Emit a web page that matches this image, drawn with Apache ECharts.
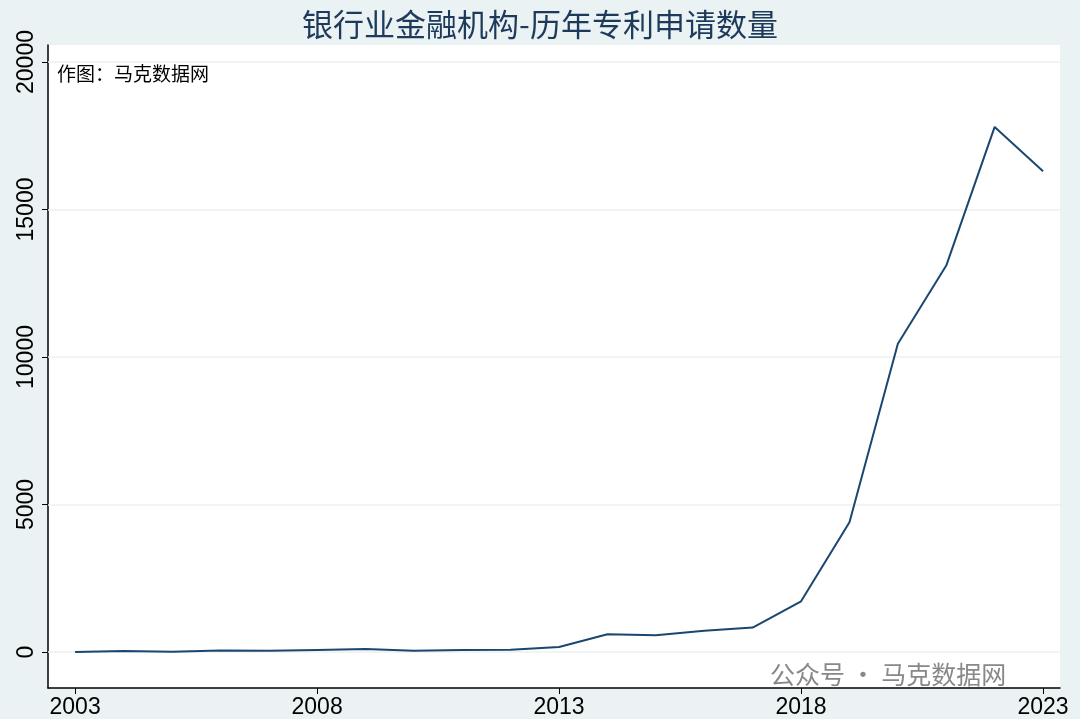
<!DOCTYPE html>
<html>
<head>
<meta charset="utf-8">
<script src="https://cdn.jsdelivr.net/npm/echarts@6/dist/echarts.min.js"></script>
<style>html,body{margin:0;padding:0;background:#eaf2f3;}#main{width:1080px;height:719px;}</style>
</head>
<body>
<div id="main"></div>
<script>
var years = [2003,2004,2005,2006,2007,2008,2009,2010,2011,2012,2013,2014,2015,2016,2017,2018,2019,2020,2021,2022,2023];
var patents = [0,30,10,50,40,70,100,40,70,80,170,600,570,720,830,1720,4400,10450,13100,17800,16300];
var xTicks = [2003,2008,2013,2018,2023];
var yTicks = [0,5000,10000,15000,20000];

var chart = echarts.init(document.getElementById('main'));
var data = years.map(function (y, i) { return [y, patents[i]]; });
chart.setOption({
    backgroundColor: '#eaf2f3',
    title: {
        text: '银行业金融机构-历年专利申请数量',
        left: 'center', top: 4,
        textStyle: { color: '#1e3a5a', fontSize: 31, fontWeight: 'normal', fontFamily: 'Noto Sans CJK SC' }
    },
    grid: { left: 48, right: 20, top: 45, bottom: 31, backgroundColor: '#fff', show: true, borderWidth: 0 },
    xAxis: {
        type: 'value', min: 2002.44, max: 2023.35,
        axisLine: { onZero: false, lineStyle: { color: '#000', width: 1.5 } },
        axisTick: { show: true, customValues: xTicks, length: 6, lineStyle: { color: '#000' } },
        axisLabel: { customValues: xTicks, color: '#000', fontSize: 23, margin: 8, fontFamily: 'Liberation Sans',
            formatter: function (v) { return String(v); } },
        splitLine: { show: false }
    },
    yAxis: {
        type: 'value', min: -1220, max: 20576,
        axisLine: { show: true, onZero: false, lineStyle: { color: '#000', width: 1.5 } },
        axisTick: { show: true, customValues: yTicks, length: 6, lineStyle: { color: '#000' } },
        axisLabel: { customValues: yTicks, color: '#000', fontSize: 23, rotate: 90, margin: 10, fontFamily: 'Liberation Sans',
            formatter: function (v) { return String(v); } },
        splitLine: { show: false }
    },
    series: [{
        // gridlines only
        type: 'line', data: [], z: 1, silent: true,
        markLine: {
            silent: true, symbol: 'none', label: { show: false },
            lineStyle: { color: '#eaf2f3', type: 'solid', width: 1.5 },
            data: yTicks.map(function (v) { return { yAxis: v }; })
        }
    }, {
        type: 'line', data: data, symbol: 'none', z: 5,
        lineStyle: { color: '#1a476f', width: 2 }
    }],
    graphic: [
        { type: 'text', left: 57, top: 64, style: { text: '作图：马克数据网', fontSize: 19, fill: '#000', fontFamily: 'Noto Sans CJK SC' } },
        { type: 'text', left: 770, top: 662, style: { text: '公众号 · 马克数据网', fontSize: 25, fill: '#888', fontFamily: 'Noto Sans CJK SC' } }
    ]
});
</script>
</body>
</html>
